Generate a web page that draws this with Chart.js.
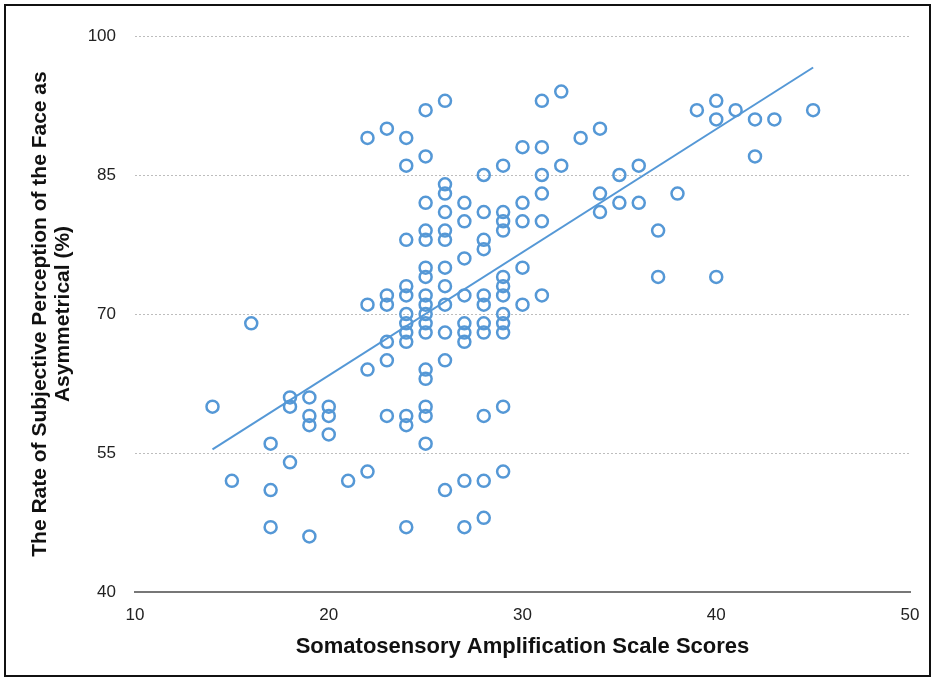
<!DOCTYPE html>
<html>
<head>
<meta charset="utf-8">
<script src="https://cdn.jsdelivr.net/npm/chart.js@4.4.1/dist/chart.umd.min.js"></script>
<style>
  html, body { margin: 0; padding: 0; background: #fff; }
  #wrap { position: relative; width: 937px; height: 681px; }
  #frame { position: absolute; left: 4px; top: 4px; width: 927px; height: 673px;
           border: 2px solid #111; box-sizing: border-box; pointer-events: none; }
  canvas { position: absolute; left: 0; top: 0; }
</style>
</head>
<body>
<div id="wrap">
  <canvas id="chart" width="937" height="681"></canvas>
  <div id="frame"></div>
</div>
<script>
// Somatosensory Amplification Scale score of each participant
const scores = [
  14,
  15,
  16,
  17, 17, 17,
  18, 18, 18,
  19, 19, 19, 19,
  20, 20, 20,
  21,
  22, 22, 22, 22,
  23, 23, 23, 23, 23, 23,
  24, 24, 24, 24, 24, 24, 24, 24, 24, 24, 24, 24,
  25, 25, 25, 25, 25, 25, 25, 25, 25, 25, 25, 25, 25, 25, 25, 25, 25,
  26, 26, 26, 26, 26, 26, 26, 26, 26, 26, 26, 26,
  27, 27, 27, 27, 27, 27, 27, 27, 27,
  28, 28, 28, 28, 28, 28, 28, 28, 28, 28, 28,
  29, 29, 29, 29, 29, 29, 29, 29, 29, 29, 29, 29,
  30, 30, 30, 30, 30,
  31, 31, 31, 31, 31, 31,
  32, 32,
  33,
  34, 34, 34,
  35, 35,
  36, 36,
  37, 37,
  38,
  39,
  40, 40, 40,
  41,
  42, 42,
  43,
  45
];

// Rate (%) at which the face was perceived as asymmetrical, same order as scores
const rates = [
  60,
  52,
  69,
  56, 51, 47,
  61, 60, 54,
  61, 59, 58, 46,
  60, 59, 57,
  52,
  89, 71, 64, 53,
  90, 72, 71, 67, 65, 59,
  89, 86, 78, 73, 72, 70, 69, 68, 67, 59, 58, 47,
  92, 87, 82, 79, 78, 75, 74, 72, 71, 70, 69, 68, 64, 63, 60, 59, 56,
  93, 84, 83, 81, 79, 78, 75, 73, 71, 68, 65, 51,
  82, 80, 76, 72, 69, 68, 67, 52, 47,
  85, 81, 78, 77, 72, 71, 69, 68, 59, 52, 48,
  86, 81, 80, 79, 74, 73, 72, 70, 69, 68, 60, 53,
  88, 82, 80, 75, 71,
  93, 88, 85, 83, 80, 72,
  94, 86,
  89,
  90, 83, 81,
  85, 82,
  86, 82,
  79, 74,
  83,
  92,
  93, 91, 74,
  92,
  91, 87,
  91,
  92
];

// End points of the fitted trend line
const trendX = [14, 45];
const trendY = [55.4, 96.6];

// Axis ticks
const xTicks = [10, 20, 30, 40, 50];
const yTicks = [40, 55, 70, 85, 100];

const blue = '#5598d6';
const fontFamily = '"Liberation Sans", Arial, Helvetica, sans-serif';

const points = scores.map((s, i) => ({ x: s, y: rates[i] }));
const trend = trendX.map((x, i) => ({ x: x, y: trendY[i] }));

new Chart(document.getElementById('chart'), {
  type: 'scatter',
  data: {
    datasets: [
      {
        data: points,
        pointStyle: 'circle',
        pointRadius: 6,
        pointBorderWidth: 2.5,
        borderColor: blue,
        backgroundColor: 'rgba(0,0,0,0)',
        order: 2
      },
      {
        type: 'line',
        data: trend,
        borderColor: blue,
        borderWidth: 2,
        pointRadius: 0,
        fill: false,
        order: 1
      }
    ]
  },
  options: {
    responsive: false,
    animation: false,
    devicePixelRatio: 1,
    layout: { padding: { left: 20, top: 36, right: 27, bottom: 20 } },
    plugins: { legend: { display: false }, tooltip: { enabled: false } },
    scales: {
      x: {
        type: 'linear',
        min: xTicks[0],
        max: xTicks[xTicks.length - 1],
        afterBuildTicks: s => { s.ticks = xTicks.map(v => ({ value: v })); },
        ticks: { font: { family: fontFamily, size: 17 }, color: '#222', padding: 13, maxRotation: 0 },
        grid: { display: false, drawTicks: false },
        border: { display: true, color: '#777', width: 2 },
        title: {
          display: true,
          text: 'Somatosensory Amplification Scale Scores',
          font: { family: fontFamily, size: 22, weight: 'bold', lineHeight: 1.2 },
          color: '#111',
          padding: { top: 0, bottom: 1 }
        },
        afterFit: s => { s.height = 69; }
      },
      y: {
        type: 'linear',
        min: yTicks[0],
        max: yTicks[yTicks.length - 1],
        afterBuildTicks: s => { s.ticks = yTicks.map(v => ({ value: v })); },
        ticks: { font: { family: fontFamily, size: 17 }, color: '#222', padding: 19 },
        grid: {
          drawTicks: false,
          lineWidth: 1,
          color: c => (c.tick && c.tick.value === yTicks[0]) ? 'rgba(0,0,0,0)' : '#bdbdbd'
        },
        border: { display: false, dash: [2, 2] },
        title: {
          display: true,
          text: ['The Rate of Subjective Perception of the Face as', 'Asymmetrical (%)'],
          font: { family: fontFamily, size: 21, weight: 'bold', lineHeight: 1.1 },
          color: '#111',
          padding: { top: 9, bottom: 0 }
        },
        afterFit: s => { s.width = 115; }
      }
    }
  }
});
</script>
</body>
</html>
